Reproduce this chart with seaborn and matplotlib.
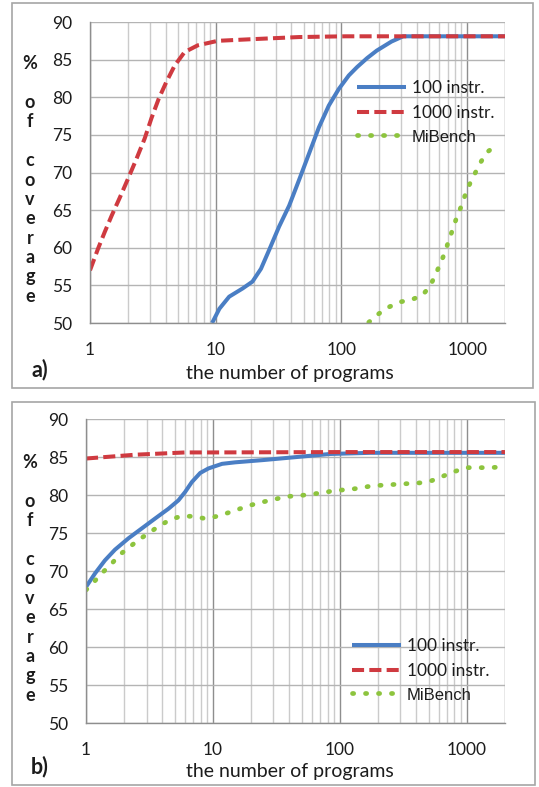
import numpy as np
import pandas as pd
import matplotlib
matplotlib.use("Agg")
import matplotlib.pyplot as plt
import matplotlib.ticker as mticker
from matplotlib.patches import Rectangle
import seaborn as sns

# Panel a) values
a_x100 = [9.36, 10.7, 12.8, 16.4, 19.6, 22.9, 26.6, 31.9, 38.4, 46, 55.2, 66.2, 79.4, 95.3, 114.5,
          133, 160, 191, 250, 310, 500, 1000, 2000]
a_y100 = [50.0, 51.9, 53.5, 54.6, 55.5, 57.2, 59.7, 62.8, 65.6, 69.0, 72.5, 76.0, 78.9, 81.1, 82.9,
          84.0, 85.2, 86.2, 87.4, 88.1, 88.1, 88.1, 88.1]
a_x1000 = [1, 1.16, 1.31, 1.49, 1.73, 2.01, 2.34, 2.72, 3.08, 3.52, 4.04, 4.71, 5.65, 7.2, 10.4,
           18.5, 46, 108, 300, 1000, 2000]
a_y1000 = [57.0, 59.9, 62.1, 64.3, 66.7, 69.2, 71.8, 74.5, 77.2, 79.8, 82.0, 84.2, 86.0, 86.9, 87.5,
           87.7, 88.0, 88.1, 88.1, 88.1, 88.1]
a_xmib = [165, 197, 237, 293, 362, 441, 507, 559, 612, 663, 712, 766, 824, 892, 964, 1050, 1156, 1274, 1438, 1706]
a_ymib = [50.1, 51.2, 52.1, 52.8, 53.1, 53.7, 54.9, 56.4, 57.9, 59.3, 60.9, 62.4, 64.0, 65.4, 67.0, 68.5, 69.9, 71.3, 72.7, 73.6]

# Panel b) values
b_x100 = [1, 1.18, 1.41, 1.69, 2.16, 2.75, 3.5, 4.47, 5.35, 6.04, 6.82, 7.94, 9.23, 11.8, 15,
          25, 46, 84, 174, 500, 1000, 2000]
b_y100 = [67.9, 69.7, 71.4, 72.8, 74.3, 75.6, 76.9, 78.2, 79.3, 80.4, 81.7, 82.9, 83.5, 84.1, 84.3,
          84.6, 85.0, 85.4, 85.55, 85.55, 85.55, 85.55]
b_x1000 = [1, 2.44, 6.04, 10, 100, 1000, 2000]
b_y1000 = [84.8, 85.3, 85.6, 85.6, 85.65, 85.65, 85.65]
b_xmib = [1, 1.16, 1.35, 1.58, 1.83, 2.18, 2.6, 3.13, 3.75, 4.55, 5.55, 6.95, 8.64, 10.8, 13.4, 16.4,
          20.2, 25, 30, 37.9, 47.4, 59, 73.8, 91.8, 114, 142, 178, 221, 275, 344, 428, 532, 654, 804,
          994, 1227, 1527, 1923]
b_ymib = [67.5, 68.6, 69.8, 70.9, 72.1, 73.1, 74.1, 75.0, 75.9, 76.7, 77.2, 77.2, 76.9, 77.2, 77.7, 78.2,
          78.7, 79.1, 79.4, 79.8, 79.9, 80.1, 80.3, 80.6, 80.7, 80.9, 81.2, 81.3, 81.4, 81.5, 81.6, 81.9, 82.5, 83.1,
          83.6, 83.6, 83.6, 83.7]

labels = ["100 instr.", "1000 instr.", "MiBench"]
colors = ["#4a7ec4", "#cf3a40", "#8dc43e"]
y_ticks = [50, 55, 60, 65, 70, 75, 80, 85, 90]
x_ticks = [1, 10, 100, 1000]

sns.set_style("white")
plt.rcParams["font.family"] = ["Lato", "DejaVu Sans"]

W, H = 539, 787
TXT = "#1c1c1c"
fig = plt.figure(figsize=(W / 100, H / 100), dpi=100)


def px(x, y):
    return x / W, 1 - y / H


def panel(rect, series, legend_xy, tag, tag_y, ylab_y, xlab_y):
    ax = fig.add_axes(rect)
    for (xs, ys), lab, col in zip(series, labels, colors):
        df = pd.DataFrame({"n": xs, "cov": ys})
        sns.lineplot(data=df, x="n", y="cov", ax=ax, color=col, label=lab,
                     linewidth=2.9, estimator=None, sort=True)
    lines = ax.get_lines()
    lines[0].set_solid_capstyle("butt")
    lines[0].set_solid_joinstyle("round")
    lines[1].set_linestyle((0, (3.0, 1.3)))
    lines[1].set_dash_capstyle("butt")
    lines[2].set_linewidth(3.4)
    lines[2].set_linestyle((0, (0.25, 2.5)))
    lines[2].set_dash_capstyle("round")

    ax.set_xscale("log")
    ax.set_xlim(1, 2000)
    ax.set_ylim(50, 90)
    ax.set_yticks(y_ticks)
    ax.set_xticks(x_ticks)
    ax.xaxis.set_major_formatter(mticker.FuncFormatter(lambda v, p: f"{int(v)}"))
    ax.xaxis.set_minor_locator(mticker.LogLocator(base=10, subs=np.arange(2, 10)))
    ax.xaxis.set_minor_formatter(mticker.NullFormatter())
    ax.grid(which="major", axis="y", color="#b4b4b4", linewidth=1)
    ax.grid(which="major", axis="x", color="#8e8e8e", linewidth=1)
    ax.grid(which="minor", axis="x", color="#cbcbcb", linewidth=1)
    ax.set_axisbelow(True)
    for s in ["top", "right"]:
        ax.spines[s].set_visible(False)
    for s in ["left", "bottom"]:
        ax.spines[s].set_color("#8e8e8e")
        ax.spines[s].set_linewidth(1)
    ax.axvline(2000, color="#b4b4b4", linewidth=1, zorder=0.5)
    ax.tick_params(axis="both", which="major", direction="out", length=6, width=1,
                   color="#8e8e8e", labelsize=12.5, labelcolor=TXT)
    ax.tick_params(axis="y", pad=7)
    ax.tick_params(axis="x", pad=8)
    ax.tick_params(axis="x", which="minor", length=0)
    ax.set_xlabel("")
    ax.set_ylabel("")

    leg = ax.legend(loc="upper left", bbox_to_anchor=px(*legend_xy),
                    bbox_transform=fig.transFigure, frameon=False, fontsize=12.5,
                    handlelength=2.85, handletextpad=0.3, labelspacing=0.5, borderpad=0,
                    borderaxespad=0)
    for t in leg.get_texts():
        t.set_color(TXT)
    leg.get_texts()[2].set_family(["Liberation Sans", "DejaVu Sans"])
    leg.get_texts()[2].set_fontsize(12)

    fig.text(*px(30, ylab_y), "%\n\no\nf\n\nc\no\nv\ne\nr\na\ng\ne", ha="center", va="center",
             fontsize=13, fontweight="bold", linespacing=1.17, color=TXT)
    fig.text(*px(40, tag_y), tag, ha="center", va="center", fontsize=15.5,
             fontweight="bold", color=TXT)
    fig.text(*px(290, xlab_y), "the number of programs", ha="center", va="center",
             fontsize=14, color=TXT)
    return ax


panel([90 / W, 1 - 323 / H, 415 / W, 301 / H],
      [(a_x100, a_y100), (a_x1000, a_y1000), (a_xmib, a_ymib)],
      (357, 80), "a)", 370, 180, 374)
panel([86 / W, 1 - 723 / H, 419 / W, 304 / H],
      [(b_x100, b_y100), (b_x1000, b_y1000), (b_xmib, b_ymib)],
      (352, 638), "b)", 767, 579, 771)

for top, bot, right in [(3, 388, 533), (402, 785, 535)]:
    fig.patches.append(Rectangle(px(12, bot), (right - 12) / W, (bot - top) / H,
                                 transform=fig.transFigure, fill=False,
                                 edgecolor="#a6a6a6", linewidth=1.2))

fig.savefig("out.png", dpi=100)
